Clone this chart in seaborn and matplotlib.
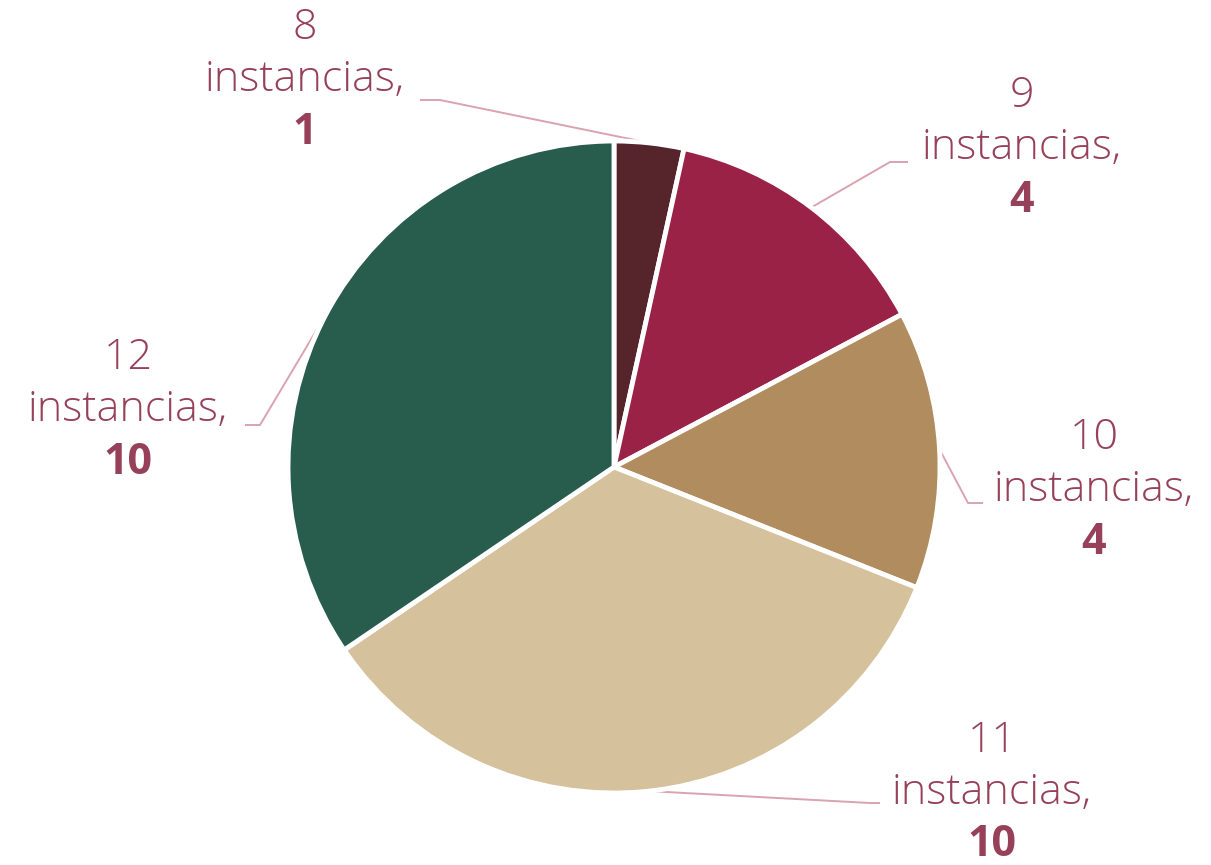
"""
Instancias por número
=====================

Pie chart of the number of cases per count of instancias.
"""

# Libraries
import numpy as np
import seaborn as sns
import matplotlib.pyplot as plt

# Seaborn
sns.set_theme(style="white")
plt.rcParams['font.family'] = ['Open Sans', 'DejaVu Sans']

# ---------------------------------
# Data
# ---------------------------------
categories = ['8', '9', '10', '11', '12']
values = [1, 4, 4, 10, 10]
colors = ['#56242b', '#9b2247', '#b08c5e', '#d5c19c', '#285c4d']

# ---------------------------------
# Layout (pixels of the 1211x865 canvas)
# ---------------------------------
W, H = 1211, 865
cx, cy, r = 614, 467, 326

# Label centre (middle line) and leader elbow / end for each slice
label_xy = [(305, 80), (1022, 148), (1094, 490), (992, 793), (128, 410)]
elbow_xy = [(440, 100), (890, 162), (968, 503), (870, 803), (260, 425)]
end_xy = [(420, 100), (908, 162), (983, 503), (880, 803), (245, 425)]
line_gap = 52

text_color = '#96405a'
leader_color = '#d9a3b0'


def px(x, y):
    """Pixel position -> data coordinates (pie radius = 1)."""
    return (x - cx) / r, (cy - y) / r


# ---------------------------------
# Plot
# ---------------------------------
fig = plt.figure(figsize=(W / 100, H / 100), dpi=100)
ax = fig.add_axes([0, 0, 1, 1])

wedges, _ = ax.pie(values, colors=colors, startangle=90, counterclock=False,
                   radius=1, center=(0, 0),
                   wedgeprops=dict(edgecolor='white', linewidth=3.5))

# pie() resets the limits, so set them afterwards
ax.set_xlim(-cx / r, (W - cx) / r)
ax.set_ylim(-(H - cy) / r, cy / r)
ax.set_aspect('equal')
ax.axis('off')

for w, cat, val, lab, elb, end in zip(wedges, categories, values,
                                      label_xy, elbow_xy, end_xy):
    # Leader line from the middle of the wedge arc
    ang = np.deg2rad((w.theta1 + w.theta2) / 2)
    x0, y0 = np.cos(ang), np.sin(ang)
    xe, ye = px(*elb)
    xn, yn = px(*end)
    ax.plot([x0, xe, xn], [y0, ye, yn], color=leader_color, lw=1.4,
            solid_capstyle='butt', zorder=0)

    # Three-line label
    lx, ly = lab
    ax.text(*px(lx, ly - line_gap), cat, ha='center', va='center',
            fontsize=31, color=text_color, fontweight='light')
    ax.text(*px(lx, ly), 'instancias,', ha='center', va='center',
            fontsize=31, color=text_color, fontweight='light')
    ax.text(*px(lx, ly + line_gap), str(val), ha='center', va='center',
            fontsize=31, color=text_color, fontweight='bold')

fig.savefig('out.png', dpi=100, facecolor='white')
